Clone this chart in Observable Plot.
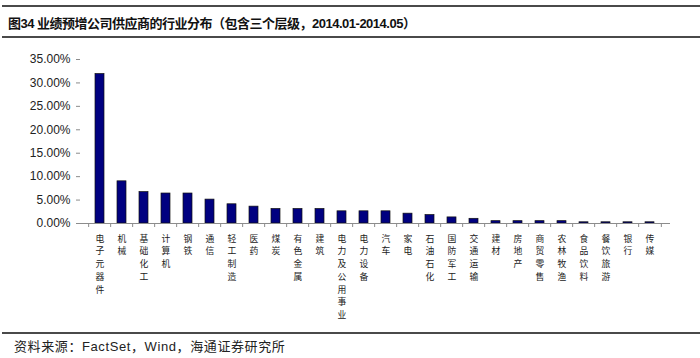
<!DOCTYPE html>
<html>
<head>
<meta charset="utf-8">
<script src="https://cdn.jsdelivr.net/npm/d3@7"></script>
<script src="https://cdn.jsdelivr.net/npm/@observablehq/plot@0.6"></script>
<style>
  html, body { margin: 0; padding: 0; background: #fff; }
  #wrap { position: relative; width: 700px; height: 358px; overflow: hidden; font-family: "Liberation Sans", "Noto Sans CJK SC", sans-serif; }
  .hline { position: absolute; left: 2px; right: 0; background: #4a4a4a; }
  #title { position: absolute; left: 8px; top: 13px; font-size: 13px; font-weight: bold; color: #111; white-space: nowrap; letter-spacing: -0.5px; }
  #source { position: absolute; left: 14px; top: 336px; font-size: 13px; color: #222; white-space: nowrap; letter-spacing: 0.6px; }
  #chart { position: absolute; left: 0; top: 0; }
</style>
</head>
<body>
<div id="wrap">
  <div class="hline" style="top:5px;height:2px"></div>
  <div id="title">图34 业绩预增公司供应商的行业分布（包含三个层级，2014.01-2014.05）</div>
  <div class="hline" style="top:36px;height:2px"></div>
  <div id="chart"></div>
  <div class="hline" style="top:332px;height:1.5px"></div>
  <div id="source">资料来源：FactSet，Wind，海通证券研究所</div>
</div>
<script>
const categories = ["电子元器件","机械","基础化工","计算机","钢铁","通信","轻工制造","医药","煤炭","有色金属","建筑","电力及公用事业","电力设备","汽车","家电","石油石化","国防军工","交通运输","建材","房地产","商贸零售","农林牧渔","食品饮料","餐饮旅游","银行","传媒"];
const shares = [0.319,0.090,0.067,0.064,0.064,0.051,0.041,0.036,0.031,0.031,0.031,0.026,0.026,0.026,0.021,0.018,0.013,0.010,0.005,0.005,0.005,0.005,0.0026,0.0026,0.0026,0.0026];
const yTicks = [0,0.05,0.10,0.15,0.20,0.25,0.30,0.35];

const data = categories.map((c, i) => ({cat: c, v: shares[i]}));

const W = 700, H = 358, ML = 80, MR = 30, MT = 59, MB = 135;
const step = (W - ML - MR) / categories.length;

const chart = Plot.plot({
  width: W, height: H,
  marginLeft: ML, marginRight: MR, marginTop: MT, marginBottom: MB,
  style: {background: "transparent", color: "#222"},
  x: {domain: categories, paddingInner: 0.58, paddingOuter: 0.29, axis: null},
  y: {domain: [0, 0.35], axis: null},
  marks: [
    Plot.barY(data, {x: "cat", y: "v", fill: "#000080", stroke: "#111", strokeWidth: 0.7}),
    Plot.ruleY([0], {stroke: "#8c8c8c"}),
    Plot.axisY({ticks: yTicks, tickFormat: d3.format(".2%"), tickSize: 4, tickPadding: 6, line: true,
      stroke: "#8c8c8c", fill: "#222", fontSize: 12, label: null, fontFamily: "Liberation Sans, Arial, sans-serif"}),
    Plot.axisX({tickSize: 4, dx: -step / 2, stroke: "#8c8c8c", tickFormat: () => "", label: null}),
    Plot.axisX({ticks: [categories[categories.length - 1]], tickSize: 4, dx: step / 2, stroke: "#8c8c8c", tickFormat: () => "", label: null}),
    Plot.axisX({tickSize: 0, tickPadding: 9, tickFormat: d => [...d].join("\n"), fontSize: 8.8, lineHeight: 1.45,
      fill: "#222", label: null, fontFamily: "Noto Sans CJK SC, sans-serif"})
  ]
});
document.getElementById("chart").appendChild(chart);
</script>
</body>
</html>
